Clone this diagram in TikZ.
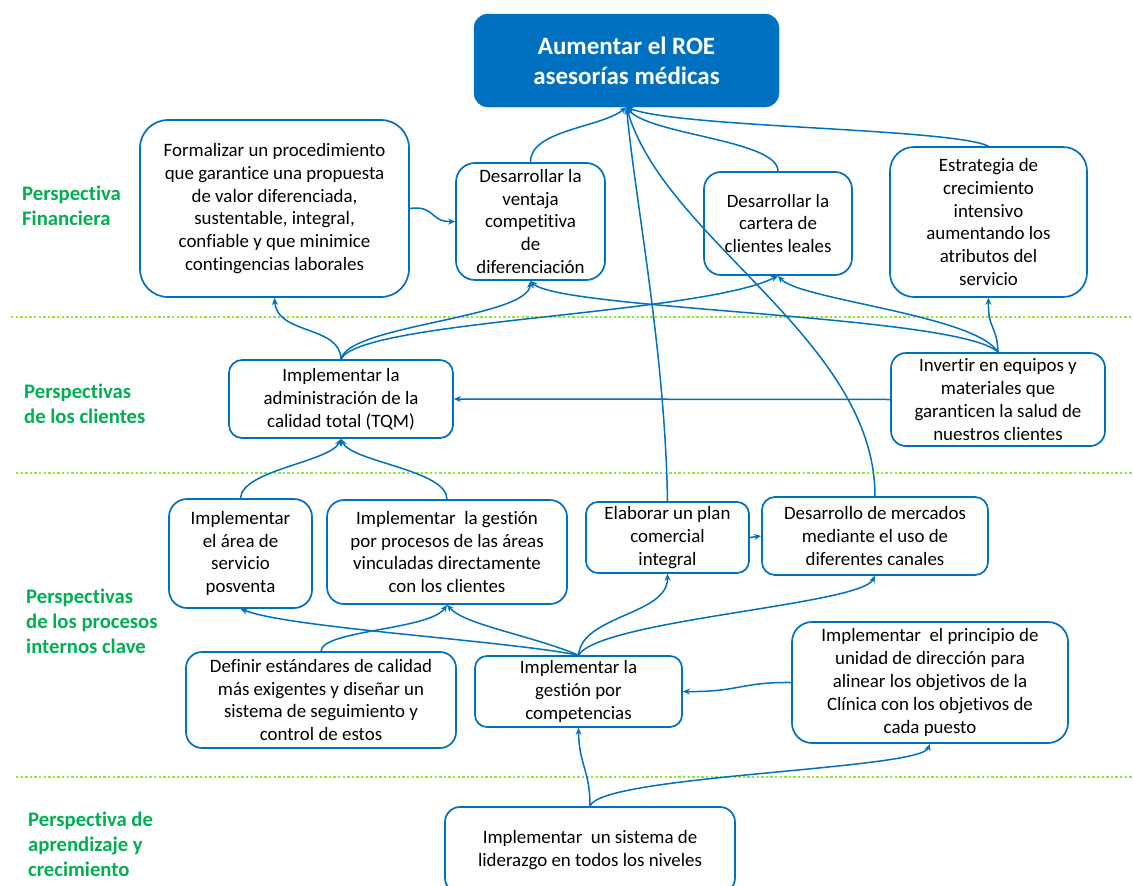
\documentclass[tikz,border=0pt]{standalone}
\usepackage{fontspec}
\setmainfont[Ligatures=NoCommon]{Carlito}
\usetikzlibrary{arrows.meta}
\definecolor{bsblue}{RGB}{0,112,192}
\definecolor{bslabel}{RGB}{0,176,80}
\definecolor{bsdots}{RGB}{140,232,50}
\tikzset{
  obj/.style={draw=bsblue, line width=1.7pt, fill=white, align=center, inner sep=1pt,
    text=black, font=\fontsize{18.9}{22.8}\selectfont},
  goal/.style={draw=bsblue, fill=bsblue, align=center, text=white,
    font=\bfseries\fontsize{25}{30}\selectfont},
  persp/.style={anchor=west, align=left, inner sep=0pt, text=bslabel,
    font=\bfseries\fontsize{20.7}{25}\selectfont},
  band/.style={draw=bsdots, line width=2.3pt, dash pattern=on 2.3pt off 2.3pt},
  link/.style={draw=bsblue, line width=1.5pt, -{Stealth[length=7pt,width=6pt]}},
}
\begin{document}
\begin{tikzpicture}[x=1pt,y=-1pt]
\useasboundingbox (0,0) rectangle (1133,886);
\clip (0,0) rectangle (1133,886);

% perspective separators
\draw[band] (11,317) -- (1133,317);
\draw[band] (16,473) -- (1133,473);
\draw[band] (16,777) -- (1133,777);

% perspective labels
\node[persp] (lfin) at (22,205.5) {Perspectiva\\Financiera};
\node[persp] (lcli) at (24,403.5) {Perspectivas\\de los clientes};
\node[persp] (lpro) at (26,621) {Perspectivas\\de los procesos\\internos clave};
\node[persp] (lapr) at (28,844.5) {Perspectiva de\\aprendizaje y\\crecimiento};

% objectives
\node[goal, minimum width=305pt, minimum height=93pt, rounded corners=14pt] (roe) at (626.5,60.5)
  {Aumentar el ROE\\asesorías médicas};
\node[obj, minimum width=269pt, minimum height=177pt, rounded corners=28pt] (form) at (274.5,208.5)
  {Formalizar un procedimiento\\que garantice una propuesta\\de valor diferenciada,\\sustentable, integral,\\confiable y que minimice\\contingencias laborales};
\node[obj, minimum width=149pt, minimum height=117pt, rounded corners=19pt] (vent) at (530.5,221.5)
  {Desarrollar la\\ventaja\\competitiva\\de\\diferenciación};
\node[obj, minimum width=148pt, minimum height=103pt, rounded corners=17pt] (cart) at (778,223.5)
  {Desarrollar la\\cartera de\\clientes leales};
\node[obj, minimum width=197pt, minimum height=150pt, rounded corners=24pt] (estr) at (988.5,222)
  {Estrategia de\\crecimiento\\intensivo\\aumentando los\\atributos del\\servicio};
\node[obj, minimum width=224pt, minimum height=78pt, rounded corners=13pt] (tqm) at (341,399)
  {Implementar la\\administración de la\\calidad total (TQM)};
\node[obj, minimum width=214pt, minimum height=93pt, rounded corners=15pt] (inv) at (998,399.5)
  {Invertir en equipos y\\materiales que\\garanticen la salud de\\nuestros clientes};
\node[obj, minimum width=143pt, minimum height=109pt, rounded corners=18pt] (posv) at (240.5,553.5)
  {Implementar\\el área de\\servicio\\posventa};
\node[obj, minimum width=240pt, minimum height=104pt, rounded corners=17pt] (proc) at (447,552)
  {Implementar\ \ la gestión\\por procesos de las áreas\\vinculadas directamente\\con los clientes};
\node[obj, minimum width=163pt, minimum height=71pt, rounded corners=12pt] (plan) at (667.5,537.5)
  {Elaborar un plan\\comercial\\integral};
\node[obj, minimum width=226pt, minimum height=78pt, rounded corners=13pt] (merc) at (875,536)
  {Desarrollo de mercados\\mediante el uso de\\diferentes canales};
\node[obj, minimum width=270pt, minimum height=96pt, rounded corners=16pt] (def) at (321,700)
  {Definir estándares de calidad\\más exigentes y diseñar un\\sistema de seguimiento y\\control de estos};
\node[obj, minimum width=207pt, minimum height=71pt, rounded corners=12pt] (comp) at (578.5,691.5)
  {Implementar la\\gestión por\\competencias};
\node[obj, minimum width=276pt, minimum height=121pt, rounded corners=20pt] (prin) at (930,682.5)
  {Implementar\ \ el principio de\\unidad de dirección para\\alinear los objetivos de la\\Clínica con los objetivos de\\cada puesto};
\node[obj, minimum width=290pt, minimum height=86pt, rounded corners=15pt] (lid) at (590,850)
  {Implementar\ \ un sistema de\\liderazgo en todos los niveles};

% links into the top goal
\draw[link] (vent.north) .. controls (530,130) and (600,128) .. (roe.south);
\draw[link] (cart.north) .. controls (778,140) and (650,135) .. (roe.south);
\draw[link] (estr.north) .. controls (950,128) and (680,128) .. (roe.south);
\draw[link] (plan.north) .. controls (665,350) and (635,200) .. (roe.south);
\draw[link] (merc.north) .. controls (875,340) and (665,240) .. (roe.south);

% financial level
\draw[link] (form.east) .. controls (435,205) and (430,222) .. (vent.west);

% customer level
\draw[link] (tqm.north) .. controls (340,325) and (277,335) .. (form.south);
\draw[link] (tqm.north) .. controls (348,325) and (528,318) .. (vent.south);
\draw[link] (tqm.north) .. controls (360,320) and (700,315) .. (cart.south);
\draw[link] (inv.north) .. controls (960,315) and (560,310) .. (vent.south);
\draw[link] (inv.north) .. controls (975,315) and (800,300) .. (cart.south);
\draw[link] (inv.north) .. controls (997,325) and (988,330) .. (estr.south);
\draw[link] (inv.west) -- (tqm.east);

% internal processes level
\draw[link] (posv.north) .. controls (242,470) and (330,462) .. (tqm.south);
\draw[link] (proc.north) .. controls (447,470) and (352,462) .. (tqm.south);
\draw[link] (comp.north) .. controls (500,640) and (290,628) .. (posv.south);
\draw[link] (comp.north) .. controls (530,635) and (465,625) .. (proc.south);
\draw[link] (def.north) .. controls (322,630) and (430,630) .. (proc.south);
\draw[link] (comp.north) .. controls (582,615) and (668,615) .. (plan.south);
\draw[link] (comp.north) .. controls (600,620) and (860,605) .. (merc.south);
\draw[link] (plan.east) -- (merc.west);
\draw[link] (prin.west) .. controls (740,682) and (740,692) .. (comp.east);

% learning and growth level
\draw[link] (lid.north) .. controls (590,770) and (579,765) .. (comp.south);
\draw[link] (lid.north) .. controls (600,775) and (920,770) .. (prin.south);
\end{tikzpicture}
\end{document}
